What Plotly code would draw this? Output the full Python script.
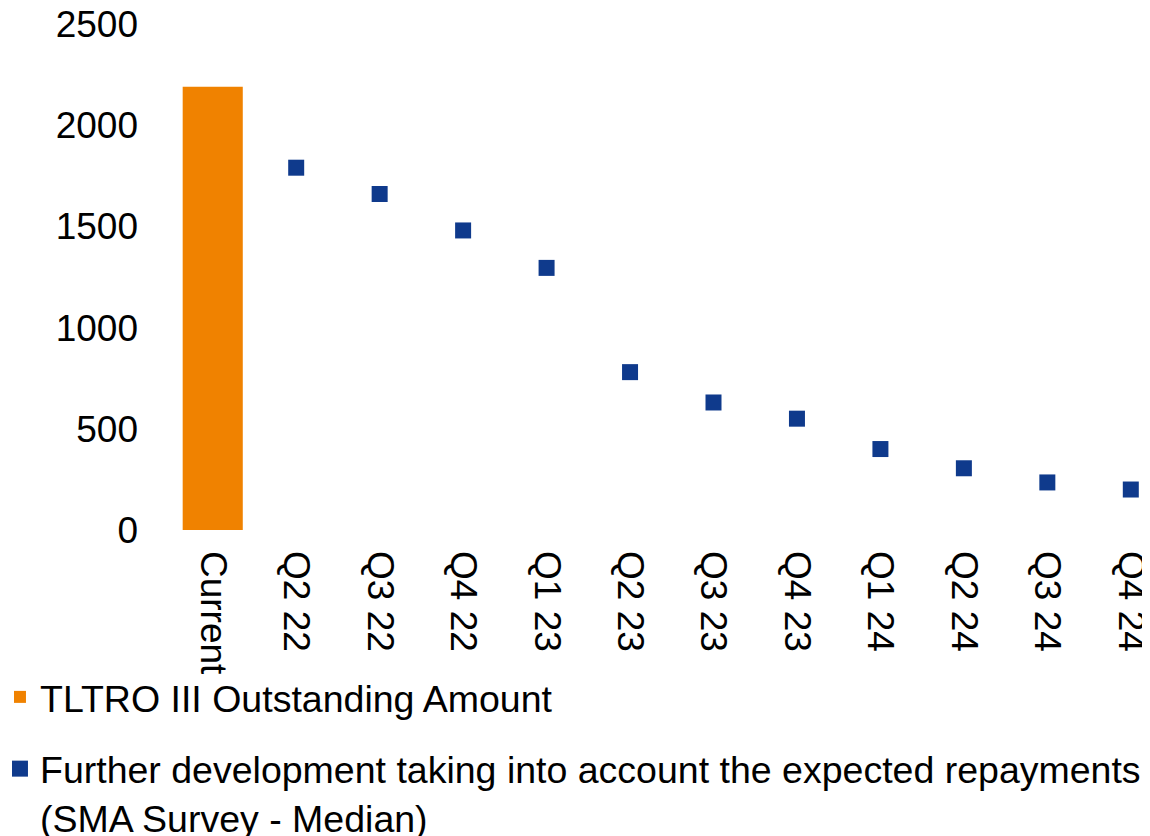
import plotly.graph_objects as go

# data
categories = ["Current", "Q2 22", "Q3 22", "Q4 22", "Q1 23", "Q2 23", "Q3 23",
              "Q4 23", "Q1 24", "Q2 24", "Q3 24", "Q4 24"]
outstanding = [2190, None, None, None, None, None, None, None, None, None, None, None]
expected = [None, 1790, 1660, 1480, 1295, 780, 630, 550, 400, 305, 235, 200]

FONT = "Liberation Sans, Arial, sans-serif"

fig = go.Figure()
fig.add_trace(go.Bar(
    x=categories, y=outstanding,
    name="TLTRO III Outstanding Amount",
    marker=dict(color="#F08200", line=dict(width=0)),
    width=0.72,
    legendgroup="a",
))
fig.add_trace(go.Scatter(
    x=categories, y=expected, mode="markers",
    name="Further development taking into account the expected repayments<br>(SMA Survey - Median)",
    marker=dict(symbol="square", size=16, color="#0F3A8C", line=dict(width=0)),
    legendgroup="b",
))

# the page body adds an 8px offset, so the figure is a bit smaller than the window
fig.update_layout(
    width=1142, height=828,
    margin=dict(l=163, r=0, t=16, b=306, autoexpand=False),
    paper_bgcolor="white", plot_bgcolor="white",
    font=dict(family=FONT, size=37, color="black"),
    showlegend=True,
    legend=dict(
        x=-0.1747, y=-0.2688, xanchor="left", yanchor="top",
        orientation="v", valign="top",
        tracegroupgap=20,
        itemwidth=30,
        font=dict(family=FONT, size=37.5, color="black"),
        bgcolor="rgba(0,0,0,0)",
    ),
    bargap=0.28,
)
fig.update_xaxes(
    type="category", range=[-0.5, 11.23], automargin=False,
    tickangle=90, showgrid=False, showline=False, zeroline=False,
    ticks="", ticklabelstandoff=20, ticklabeloverflow="allow",
    tickfont=dict(family=FONT, size=37),
)
fig.update_yaxes(
    range=[0, 2500], tickvals=[0, 500, 1000, 1500, 2000, 2500], automargin=False,
    showgrid=False, showline=False, zeroline=False,
    ticks="", ticklabelstandoff=32, ticklabeloverflow="allow",
    tickfont=dict(family=FONT, size=37),
)

fig.write_html("out.html")
